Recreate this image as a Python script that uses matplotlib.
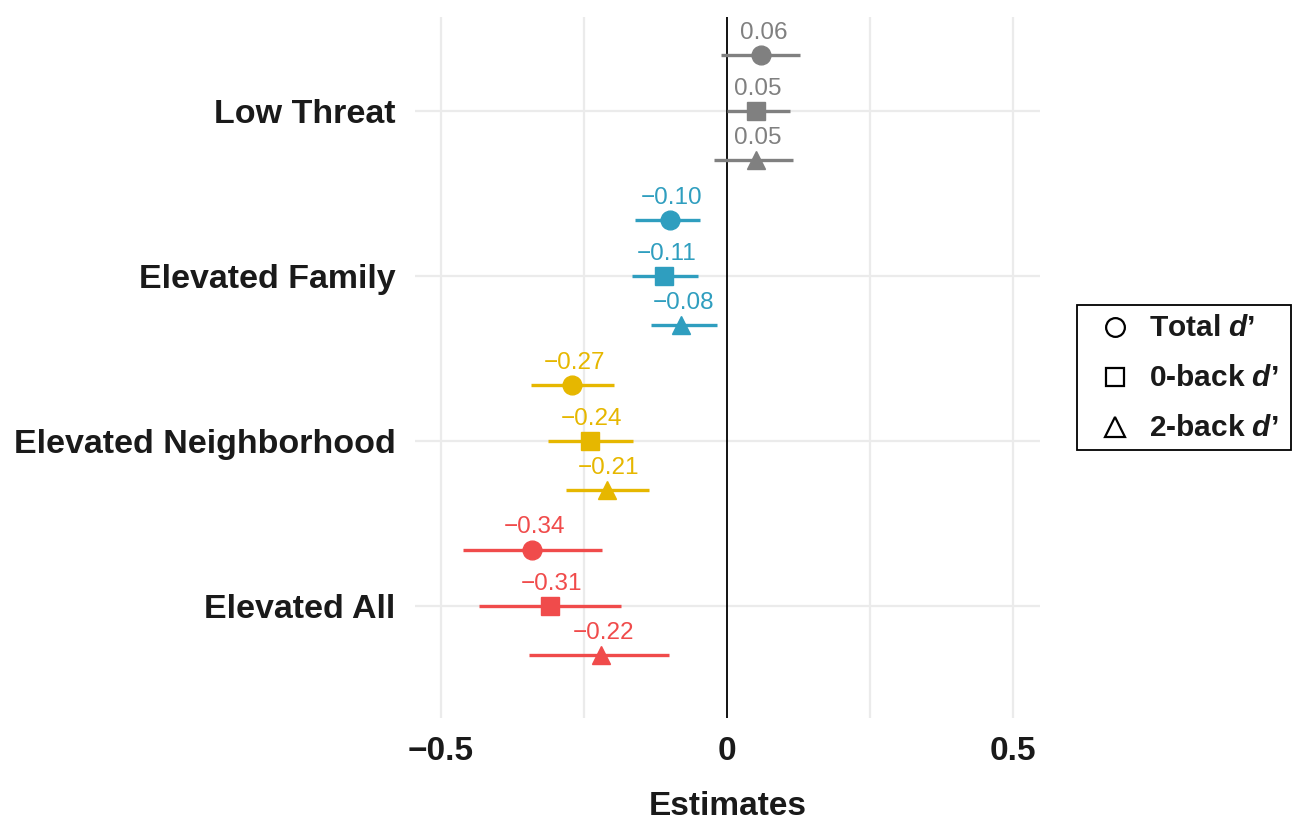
import numpy as np
import matplotlib.pyplot as plt
from matplotlib.lines import Line2D
from matplotlib.patches import Rectangle

plt.rcParams['font.family'] = ['Liberation Sans', 'DejaVu Sans']
plt.rcParams['mathtext.fontset'] = 'custom'
plt.rcParams['mathtext.bfit'] = 'Liberation Sans:italic:bold'
plt.rcParams['mathtext.it'] = 'Liberation Sans:italic'
plt.rcParams['mathtext.rm'] = 'Liberation Sans'

# groups, top to bottom
groups = ['Low Threat', 'Elevated Family', 'Elevated Neighborhood', 'Elevated All']
group_colors = ['#808080', '#2F9EBF', '#E6B700', '#F04B4B']

# Total d'
total_est = [0.06, -0.10, -0.27, -0.34]
total_lo = [-0.011, -0.161, -0.343, -0.462]
total_hi = [0.128, -0.047, -0.198, -0.219]

# 0-back d'
back0_est = [0.05, -0.11, -0.24, -0.31]
back0_lo = [0.0, -0.166, -0.313, -0.434]
back0_hi = [0.11, -0.051, -0.164, -0.185]

# 2-back d'
back2_est = [0.05, -0.08, -0.21, -0.22]
back2_lo = [-0.023, -0.133, -0.281, -0.346]
back2_hi = [0.115, -0.017, -0.136, -0.101]

# label shown above each point (rounded estimate)
total_lab = [0.06, -0.10, -0.27, -0.34]
back0_lab = [0.05, -0.11, -0.24, -0.31]
back2_lab = [0.05, -0.08, -0.21, -0.22]

legend_labels = [r'Total $\mathbfit{d}$’', r'0-back $\mathbfit{d}$’', r'2-back $\mathbfit{d}$’']

series = [
    (total_est, total_lo, total_hi, total_lab, 'o', 13.5, 0.34),
    (back0_est, back0_lo, back0_hi, back0_lab, 's', 12.5, 0.0),
    (back2_est, back2_lo, back2_hi, back2_lab, '^', 13.5, -0.30),
]

fig = plt.figure(figsize=(12.93, 8.22), dpi=100)
ax = fig.add_axes([415/1293, 1 - 718/822, 625/1293, 701/822])

ypos = np.arange(len(groups))[::-1] + 1.0

# grid
for y in ypos:
    ax.axhline(y, color='#EBEBEB', lw=1.6, zorder=0)
for x in [-0.5, -0.25, 0.25, 0.5]:
    ax.axvline(x, color='#EBEBEB', lw=1.6, zorder=0)
ax.axvline(0, color='black', lw=1.3, zorder=1)

for est, lo, hi, lab, mk, ms, off in series:
    for i, y in enumerate(ypos):
        c = group_colors[i]
        yy = y + off
        ax.plot([lo[i], hi[i]], [yy, yy], color=c, lw=2.4, solid_capstyle='butt', zorder=2)
        ax.plot(est[i], yy, marker=mk, color=c, markersize=ms, ls='none', zorder=3)
        txt = f'{lab[i]:.2f}'.replace('-', '\u2212')
        ax.text(est[i] + 0.004, yy + 0.135, txt, color=c, fontsize=17.5,
                ha='center', va='center', zorder=4)

ax.set_xlim(-0.545, 0.547)
ax.set_ylim(0.32, 4.57)
ax.set_xticks([-0.5, 0, 0.5])
ax.set_xticklabels(['\u22120.5', '0', '0.5'])
ax.set_yticks(ypos)
ax.set_yticklabels(groups)
ax.tick_params(length=0)
ax.tick_params(axis='x', pad=13, labelsize=24)
ax.tick_params(axis='y', pad=14, labelsize=24.5)
for lbl in ax.get_xticklabels() + ax.get_yticklabels():
    lbl.set_fontweight('bold')
    lbl.set_color('#1a1a1a')
for s in ax.spines.values():
    s.set_visible(False)
ax.set_xlabel('Estimates', fontsize=24, fontweight='bold', labelpad=17, color='#1a1a1a')

# legend drawn by hand to match box geometry
fig.patches.append(Rectangle((1077/1293, 1 - 450/822), 214/1293, 145/822,
                             transform=fig.transFigure, fill=False,
                             ec='black', lw=1.3))
leg_markers = [('o', 13.5), ('s', 13), ('^', 14)]
for i, (mk, ms) in enumerate(leg_markers):
    yc = 1 - (327 + 50*i)/822
    fig.add_artist(Line2D([1115/1293], [yc], marker=mk, ls='none', mfc='none',
                          mec='black', mew=1.6, markersize=ms,
                          transform=fig.transFigure))
    fig.text(1149/1293, 1 - (336 + 50*i)/822, legend_labels[i], fontsize=21.5,
             fontweight='bold', va='baseline', ha='left', color='#1a1a1a')

fig.savefig('out.png', dpi=100)
